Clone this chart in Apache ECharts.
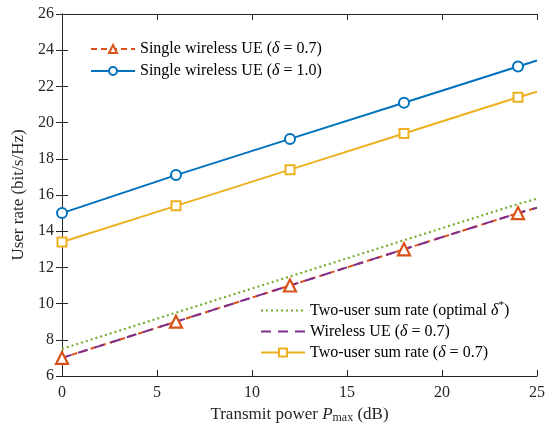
<!DOCTYPE html>
<html>
<head>
<meta charset="utf-8">
<script src="https://cdn.jsdelivr.net/npm/echarts@6/dist/echarts.min.js"></script>
<style>
  html, body { margin: 0; padding: 0; background: #fff; }
  #main { width: 546px; height: 423px; }
</style>
</head>
<body>
<div id="main"></div>
<script>
// transmit power (dB); markers every 6 dB, last point is the right edge
var powerDb = [0, 6, 12, 18, 24, 25];
var singleUe07 = [7.0, 9.0, 11.0, 13.0, 15.0, 15.3];
var singleUe10 = [15.0, 17.1, 19.1, 21.1, 23.1, 23.43];
var sumRateOpt = [7.5, 9.5, 11.5, 13.5, 15.5, 15.8];
var wirelessUe07 = [7.0, 9.0, 11.0, 13.0, 15.0, 15.3];
var sumRate07 = [13.4, 15.4, 17.4, 19.4, 21.4, 21.7];

var xTicks = [0, 5, 10, 15, 20, 25];
var yTicks = [6, 8, 10, 12, 14, 16, 18, 20, 22, 24, 26];

var FONT = '"Liberation Serif", "DejaVu Serif", serif';
var AXIS_COLOR = '#262626';

function pts(ys, markLast) {
    return powerDb.map(function (x, i) {
        var p = { value: [x, ys[i]] };
        if (markLast === false && i === powerDb.length - 1) p.symbol = 'none';
        return p;
    });
}

function legendFmt(name) {
    return name.replace('δ*', '{i|δ}{sup|*}').replace(/δ(?!\})/g, '{i|δ}');
}

var legendText = {
    fontFamily: FONT,
    fontSize: 16,
    color: '#000',
    rich: {
        i: { fontFamily: FONT, fontSize: 16, fontStyle: 'italic', color: '#000' },
        sup: { fontFamily: FONT, fontSize: 11, color: '#000', padding: [0, 0, 10, 0] }
    }
};

var tickAxis = {
    axisLine: { show: true, lineStyle: { color: AXIS_COLOR, width: 1 } },
    axisTick: { show: true, inside: true, length: 6, lineStyle: { color: AXIS_COLOR } },
    splitLine: { show: false }
};

var options = {
    animation: false,
    backgroundColor: '#fff',
    grid: { left: 62, right: 9, top: 14, bottom: 47, outerBoundsMode: 'none' },
    legend: [{
        data: ['Single wireless UE (δ = 0.7)', 'Single wireless UE (δ = 1.0)'],
        orient: 'vertical',
        left: 85,
        top: 36,
        itemWidth: 44,
        itemHeight: 10,
        itemGap: 6,
        formatter: legendFmt,
        textStyle: legendText
    }, {
        data: [
            { name: 'Two-user sum rate (optimal δ*)', itemStyle: { opacity: 0 } },
            { name: 'Wireless UE (δ = 0.7)', itemStyle: { opacity: 0 } },
            'Two-user sum rate (δ = 0.7)'
        ],
        orient: 'vertical',
        left: 255,
        top: 295,
        itemWidth: 44,
        itemHeight: 10,
        itemGap: 5,
        formatter: legendFmt,
        textStyle: legendText
    }],
    xAxis: [Object.assign({
        type: 'value',
        min: 0, max: 25, interval: 5,
        name: '{n|Transmit power }{p|P}{s|max}{n| (dB)}',
        nameLocation: 'middle',
        nameGap: 24,
        nameTextStyle: {
            fontFamily: FONT, fontSize: 17, color: AXIS_COLOR,
            rich: {
                n: { fontFamily: FONT, fontSize: 17, color: AXIS_COLOR },
                p: { fontFamily: FONT, fontSize: 17, fontStyle: 'italic', color: AXIS_COLOR },
                s: { fontFamily: FONT, fontSize: 12, color: AXIS_COLOR, padding: [7, 0, 0, 0] }
            }
        },
        axisLabel: {
            fontFamily: FONT, fontSize: 16, color: AXIS_COLOR, margin: 9,
            formatter: function (v) { return xTicks.indexOf(v) >= 0 ? String(v) : ''; }
        }
    }, tickAxis), Object.assign({
        type: 'value', position: 'top',
        min: 0, max: 25, interval: 5,
        axisLabel: { show: false }
    }, tickAxis)],
    yAxis: [Object.assign({
        type: 'value',
        min: 6, max: 26, interval: 2,
        name: 'User rate (bit/s/Hz)',
        nameLocation: 'middle',
        nameGap: 31,
        nameTextStyle: { fontFamily: FONT, fontSize: 17, color: AXIS_COLOR },
        axisLabel: {
            fontFamily: FONT, fontSize: 16, color: AXIS_COLOR, margin: 8,
            formatter: function (v) { return yTicks.indexOf(v) >= 0 ? String(v) : ''; }
        }
    }, tickAxis), Object.assign({
        type: 'value', position: 'right',
        min: 6, max: 26, interval: 2,
        axisLabel: { show: false }
    }, tickAxis)],
    series: [{
        name: 'Single wireless UE (δ = 0.7)',
        type: 'line',
        data: pts(singleUe07, false),
        symbol: 'triangle',
        symbolSize: 12,
        lineStyle: { color: '#D95319', width: 2, type: [6, 4] },
        itemStyle: { color: '#fff', borderColor: '#D95319', borderWidth: 2.2 }
    }, {
        name: 'Single wireless UE (δ = 1.0)',
        type: 'line',
        data: pts(singleUe10, false),
        symbol: 'circle',
        symbolSize: 10,
        lineStyle: { color: '#0072BD', width: 2 },
        itemStyle: { color: '#fff', borderColor: '#0072BD', borderWidth: 2 }
    }, {
        name: 'Two-user sum rate (optimal δ*)',
        type: 'line',
        data: pts(sumRateOpt),
        symbol: 'none',
        lineStyle: { color: '#77AC30', width: 2.2, type: [2, 3] },
        itemStyle: { color: '#77AC30' }
    }, {
        name: 'Wireless UE (δ = 0.7)',
        type: 'line',
        data: pts(wirelessUe07),
        symbol: 'none',
        lineStyle: { color: '#7E2F8E', width: 2, type: [10, 7] },
        itemStyle: { color: '#7E2F8E' }
    }, {
        name: 'Two-user sum rate (δ = 0.7)',
        type: 'line',
        data: pts(sumRate07, false),
        symbol: 'rect',
        symbolSize: 9,
        lineStyle: { color: '#EDB120', width: 2 },
        itemStyle: { color: '#fff', borderColor: '#EDB120', borderWidth: 2 }
    }]
};

var myChart = echarts.init(document.getElementById('main'));
myChart.setOption(options);
</script>
</body>
</html>
